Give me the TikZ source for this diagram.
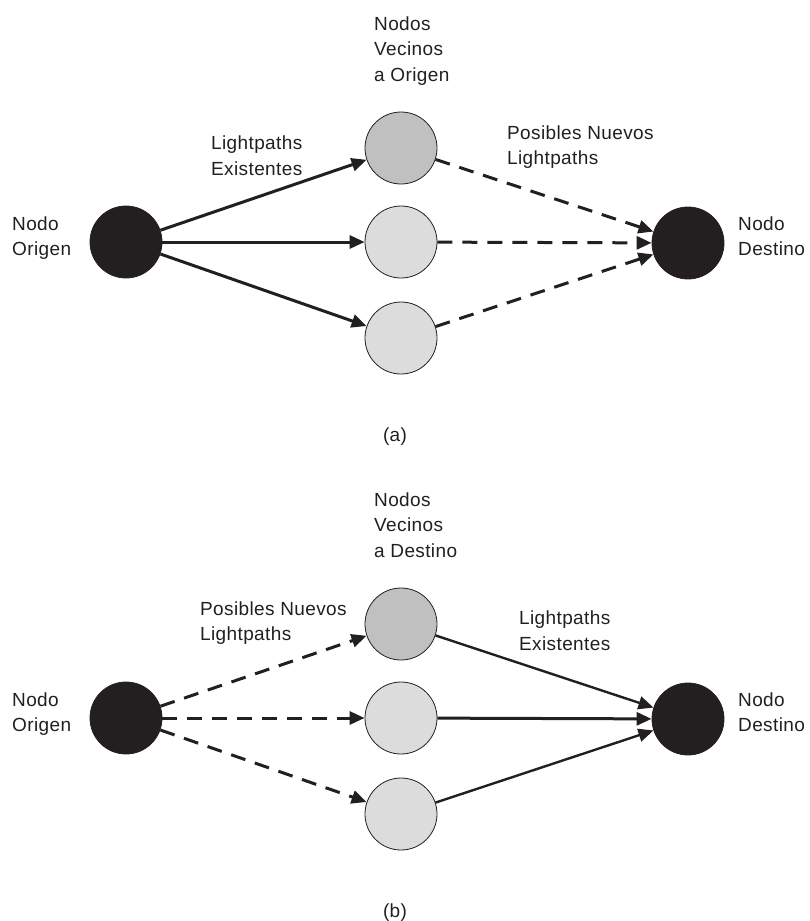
\documentclass[tikz,border=0pt]{standalone}
\usepackage{fontspec}
\setmainfont{Liberation Sans}[LetterSpace=2]
\usetikzlibrary{arrows.meta}
\definecolor{nodedark}{HTML}{231F20}
\definecolor{nodemid}{HTML}{C0C0C0}
\definecolor{nodelight}{HTML}{DCDCDC}
\definecolor{ink}{HTML}{231F20}
\begin{document}
\begin{tikzpicture}[x=1pt,y=-1pt,
  dark/.style={circle,draw=ink,line width=0.8pt,fill=nodedark,minimum size=72pt,inner sep=0pt},
  midA/.style={circle,draw=ink,line width=0.8pt,fill=nodemid,minimum size=72pt,inner sep=0pt},
  midB/.style={circle,draw=ink,line width=0.8pt,fill=nodelight,minimum size=72pt,inner sep=0pt},
  lbl/.style={align=left,anchor=base west,inner sep=0pt,font=\fontsize{19}{25.5}\selectfont,text=ink},
  captext/.style={inner sep=0pt,anchor=base,font=\fontsize{19}{25.5}\selectfont,text=ink},
  solidarr/.style={line width=3pt,draw=ink,-{Triangle[length=15pt,width=13pt]}},
  thinarr/.style={line width=2.4pt,draw=ink,-{Triangle[length=15pt,width=13pt]}},
  dasharr/.style={line width=3pt,draw=ink,dash pattern=on 15pt off 10pt,-{Triangle[length=15pt,width=13pt]}}
]
\useasboundingbox (0,0) rectangle (810,921);
% ---------- (a) ----------
\node[dark] (oa) at (126,242) {};
\node[midA] (ta) at (401,148) {};
\node[midB] (ma) at (401,242) {};
\node[midB] (ba) at (401,338) {};
\node[dark] (da) at (688,243) {};
\draw[solidarr] (oa) -- (ta);
\draw[solidarr] (oa) -- (ma);
\draw[solidarr] (oa) -- (ba);
\draw[dasharr] (ta) -- (da);
\draw[dasharr] (ma) -- (da);
\draw[dasharr] (ba) -- (da);
% anchors are at the baseline of the last line
\node[lbl] (na) at (374,81) {Nodos\\Vecinos\\a Origen};
\node[lbl] (lea) at (211,175) {Lightpaths\\Existentes};
\node[lbl] (pna) at (507,164.5) {Posibles Nuevos\\Lightpaths};
\node[lbl] (ooa) at (12,255.5) {Nodo\\Origen};
\node[lbl] (dda) at (738,255.5) {Nodo\\Destino};
\node[captext] (capa) at (395,441) {(a)};
% ---------- (b) ----------
\node[dark] (ob) at (126,718) {};
\node[midA] (tb) at (401,624) {};
\node[midB] (mb) at (401,718) {};
\node[midB] (bb) at (401,814) {};
\node[dark] (db) at (688,719) {};
\draw[dasharr] (ob) -- (tb);
\draw[dasharr] (ob) -- (mb);
\draw[dasharr] (ob) -- (bb);
\draw[thinarr] (tb) -- (db);
\draw[solidarr] (mb) -- (db);
\draw[thinarr] (bb) -- (db);
\node[lbl] (nb) at (374,557) {Nodos\\Vecinos\\a Destino};
\node[lbl] (pnb) at (200,640.5) {Posibles Nuevos\\Lightpaths};
\node[lbl] (leb) at (519,650) {Lightpaths\\Existentes};
\node[lbl] (oob) at (12,731.5) {Nodo\\Origen};
\node[lbl] (ddb) at (738,731.5) {Nodo\\Destino};
\node[captext] (capb) at (395,917) {(b)};
\end{tikzpicture}
\end{document}
